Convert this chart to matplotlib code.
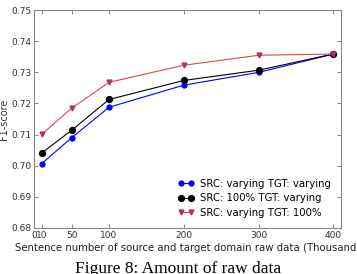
import matplotlib.pyplot as plt

x = [10, 50, 100, 200, 300, 400]
blue = [0.7007, 0.7090, 0.7188, 0.7259, 0.7300, 0.7359]
black = [0.7041, 0.7114, 0.7213, 0.7274, 0.7307, 0.7359]
red = [0.7101, 0.7185, 0.7268, 0.7323, 0.7355, 0.7359]
labels = ["SRC: varying TGT: varying", "SRC: 100% TGT: varying", "SRC: varying TGT: 100%"]
xticks = [0, 10, 50, 100, 200, 300, 400]
yticks = [0.68, 0.69, 0.70, 0.71, 0.72, 0.73, 0.74, 0.75]

fig = plt.figure(figsize=(3.57, 2.74), dpi=100)
ax = fig.add_axes([0.096, 0.168, 0.859, 0.795])

ax.plot(x, blue, color="blue", marker="o", ms=3.5, lw=0.8, label=labels[0])
ax.plot(x, black, color="black", marker="o", ms=4.2, lw=0.8, label=labels[1])
ax.plot(x, red, color="#e84050", marker="v", ms=3.5, lw=0.8,
        mfc="#b03060", mec="#b03060", label=labels[2])

ax.set_xlim(0, 410)
ax.set_ylim(0.68, 0.75)
ax.set_xticks(xticks)
ax.set_xticklabels(["0", "10", "50", "100", "200", "300", "400"])
ax.set_yticks(yticks)
ax.set_yticklabels(["%.2f" % v for v in yticks])
ax.tick_params(direction="in", top=True, right=True, labelsize=6.5,
               colors="#555555", labelcolor="#333333", length=3, width=0.5, pad=2)
for s in ax.spines.values():
    s.set_color("#888888")
    s.set_linewidth(0.8)

ax.set_ylabel("F1-score", fontsize=7, color="#333333", labelpad=2)
ax.set_xlabel("Sentence number of source and target domain raw data (Thousand)",
              fontsize=7.3, color="#222222", labelpad=2)
ax.legend(loc="lower right", frameon=False, fontsize=7.3, handlelength=1.6,
          handletextpad=0.6, labelspacing=0.45, borderaxespad=0.6, numpoints=2)

fig.text(0.5, 0.004, "Figure 8: Amount of raw data", ha="center", va="baseline",
         fontsize=12.5, family="Liberation Serif")

fig.savefig("out.png", dpi=100)
